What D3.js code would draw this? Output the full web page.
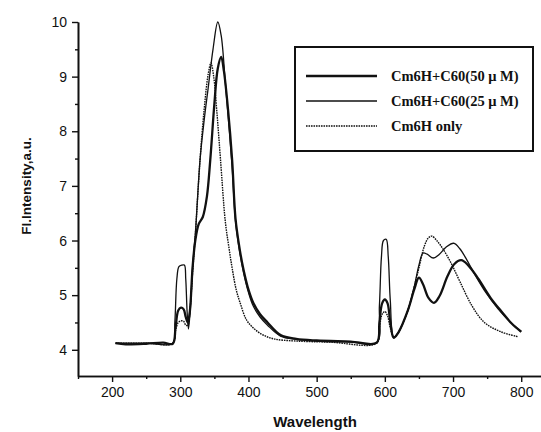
<!DOCTYPE html>
<html>
<head>
<meta charset="utf-8">
<script src="https://cdn.jsdelivr.net/npm/d3@7"></script>
<style>
  body { margin: 0; background: #fff; }
</style>
</head>
<body>
<div id="chart"></div>
<script>
const width = 541;
const height = 432;

// Data: [wavelength, intensity].
const series50 = [
  [205, 4.12], [220, 4.1], [250, 4.11], [275, 4.13], [289, 4.11], [293, 4.4], [297, 4.72],
  [301, 4.77], [305, 4.74], [308, 4.6], [311, 4.5], [314, 4.7], [318, 5.5], [322, 6.0],
  [327, 6.3], [333, 6.43], [339, 6.8], [344, 7.48], [350, 8.5], [355, 9.15], [360, 9.36],
  [364, 9.1], [370, 8.4], [376, 7.48], [381, 6.4], [387, 5.85], [393, 5.45], [400, 5.1],
  [407, 4.86], [417, 4.65], [428, 4.5], [447, 4.27], [470, 4.2], [500, 4.17], [550, 4.15],
  [588, 4.13], [592, 4.5], [596, 4.85], [600, 4.92], [604, 4.85], [608, 4.5], [613, 4.22],
  [620, 4.32], [634, 4.73], [643, 5.1], [650, 5.32], [656, 5.2], [664, 4.95], [672, 4.86],
  [680, 4.98], [692, 5.35], [702, 5.57], [712, 5.64], [722, 5.55], [737, 5.3], [755, 4.95],
  [771, 4.7], [786, 4.48], [800, 4.33]
];

const series25 = [
  [205, 4.12], [250, 4.12], [289, 4.12], [292, 4.5], [295, 5.3], [298, 5.52], [302, 5.55],
  [306, 5.55], [308, 5.3], [310, 4.7], [312, 4.38], [315, 4.8], [318, 5.5], [322, 6.1],
  [329, 7.48], [335, 8.2], [341, 8.8], [348, 9.5], [355, 10.0], [360, 9.75], [366, 8.9],
  [371, 8.15], [376, 7.35], [381, 6.35], [387, 5.8], [393, 5.4], [400, 5.05], [407, 4.8],
  [417, 4.6], [428, 4.45], [447, 4.25], [470, 4.19], [500, 4.16], [550, 4.14], [588, 4.13],
  [592, 4.8], [595, 5.7], [598, 6.0], [602, 6.02], [605, 5.7], [608, 4.9], [613, 4.24],
  [620, 4.32], [634, 4.73], [643, 5.15], [650, 5.55], [656, 5.77], [662, 5.75], [671, 5.68],
  [680, 5.75], [690, 5.88], [701, 5.95], [710, 5.85], [720, 5.65], [731, 5.4], [748, 5.05],
  [766, 4.75], [783, 4.52], [800, 4.33]
];

const seriesOnly = [
  [205, 4.12], [250, 4.12], [289, 4.12], [293, 4.35], [297, 4.5], [301, 4.53], [305, 4.52],
  [308, 4.45], [311, 4.45], [314, 4.7], [318, 5.4], [322, 6.1], [329, 7.48], [335, 8.4],
  [341, 9.05], [345, 9.25], [349, 9.0], [354, 8.3], [359, 7.48], [366, 6.35], [371, 5.9],
  [376, 5.5], [382, 5.1], [388, 4.85], [397, 4.55], [407, 4.4], [420, 4.28], [437, 4.2],
  [470, 4.16], [520, 4.14], [588, 4.12], [592, 4.4], [596, 4.65], [600, 4.7], [604, 4.62],
  [608, 4.4], [613, 4.22], [620, 4.32], [634, 4.73], [643, 5.15], [650, 5.5], [658, 5.9],
  [664, 6.05], [669, 6.08], [676, 6.0], [685, 5.85], [697, 5.59], [710, 5.25], [728, 4.8],
  [746, 4.5], [770, 4.33], [795, 4.24]
];

const legendLabels = ["Cm6H+C60(50 \u03bc M)", "Cm6H+C60(25 \u03bc M)", "Cm6H only"];
const xTicks = [200, 300, 400, 500, 600, 700, 800];
const yTicks = [4, 5, 6, 7, 8, 9, 10];

const ink = "#111";

const svg = d3.select("#chart")
  .append("svg")
  .attr("width", width)
  .attr("height", height);

const x = d3.scaleLinear().domain([150, 829]).range([78, 541]);
const y = d3.scaleLinear().domain([3.52, 10]).range([376, 22]);

// Axes, with short minor ticks in between.
svg.append("g")
  .attr("transform", `translate(0,${y(3.52)})`)
  .call(d3.axisBottom(x).tickValues(xTicks).tickFormat(d3.format("d")).tickSize(6).tickSizeOuter(0).tickPadding(5));

svg.append("g")
  .attr("transform", `translate(0,${y(3.52)})`)
  .call(d3.axisBottom(x).tickValues(d3.range(150, 830, 100)).tickSize(3).tickFormat("").tickSizeOuter(0));

svg.append("g")
  .attr("transform", `translate(${x(150)},0)`)
  .call(d3.axisLeft(y).tickValues(yTicks).tickFormat(d3.format("d")).tickSize(6).tickSizeOuter(0).tickPadding(5));

svg.append("g")
  .attr("transform", `translate(${x(150)},0)`)
  .call(d3.axisLeft(y).tickValues([4.5, 5.5, 6.5, 7.5, 8.5, 9.5]).tickSize(3).tickFormat("").tickSizeOuter(0));

svg.selectAll(".domain").attr("stroke", ink).attr("stroke-width", 1.6);
svg.selectAll(".tick line").attr("stroke", ink).attr("stroke-width", 1.4);
svg.selectAll(".tick text")
  .attr("fill", ink)
  .style("font-family", "Arial, 'Liberation Sans', sans-serif")
  .style("font-size", "14px");

svg.append("text")
  .attr("x", 315)
  .attr("y", 427)
  .attr("text-anchor", "middle")
  .style("font-family", "Arial, 'Liberation Sans', sans-serif")
  .style("font-size", "15px")
  .style("font-weight", "bold")
  .attr("fill", ink)
  .text("Wavelength");

svg.append("text")
  .attr("transform", "translate(31,186) rotate(-90)")
  .attr("text-anchor", "middle")
  .style("font-family", "Arial, 'Liberation Sans', sans-serif")
  .style("font-size", "13.5px")
  .style("font-weight", "bold")
  .attr("fill", ink)
  .text("Fl.Intensity,a.u.");

// Curves.
const line = d3.line()
  .x(d => x(d[0]))
  .y(d => y(d[1]))
  .curve(d3.curveCatmullRom.alpha(0.5));

const styles = [
  { data: series50, width: 2.3, dash: null },
  { data: series25, width: 1.3, dash: null },
  { data: seriesOnly, width: 1.4, dash: "1.6,0.9" }
];

svg.append("g")
  .selectAll("path")
  .data(styles)
  .join("path")
  .attr("d", d => line(d.data))
  .attr("fill", "none")
  .attr("stroke", ink)
  .attr("stroke-width", d => d.width)
  .attr("stroke-dasharray", d => d.dash)
  .attr("stroke-linejoin", "round");

// Legend.
const legend = svg.append("g");

legend.append("rect")
  .attr("x", 295)
  .attr("y", 47)
  .attr("width", 238)
  .attr("height", 104)
  .attr("fill", "#fff")
  .attr("stroke", ink)
  .attr("stroke-width", 2);

const rows = legend.selectAll("g.row")
  .data(styles)
  .join("g")
  .attr("class", "row")
  .attr("transform", (d, i) => `translate(0,${[76, 101, 126][i]})`);

rows.append("line")
  .attr("x1", 306)
  .attr("x2", 377)
  .attr("stroke", ink)
  .attr("stroke-width", d => d.width)
  .attr("stroke-dasharray", d => d.dash);

rows.append("text")
  .attr("x", 391)
  .attr("y", 5)
  .style("font-family", "'Times New Roman', 'Liberation Serif', serif")
  .style("font-size", "14.5px")
  .style("font-weight", "bold")
  .attr("fill", ink)
  .text((d, i) => legendLabels[i]);
</script>
</body>
</html>
